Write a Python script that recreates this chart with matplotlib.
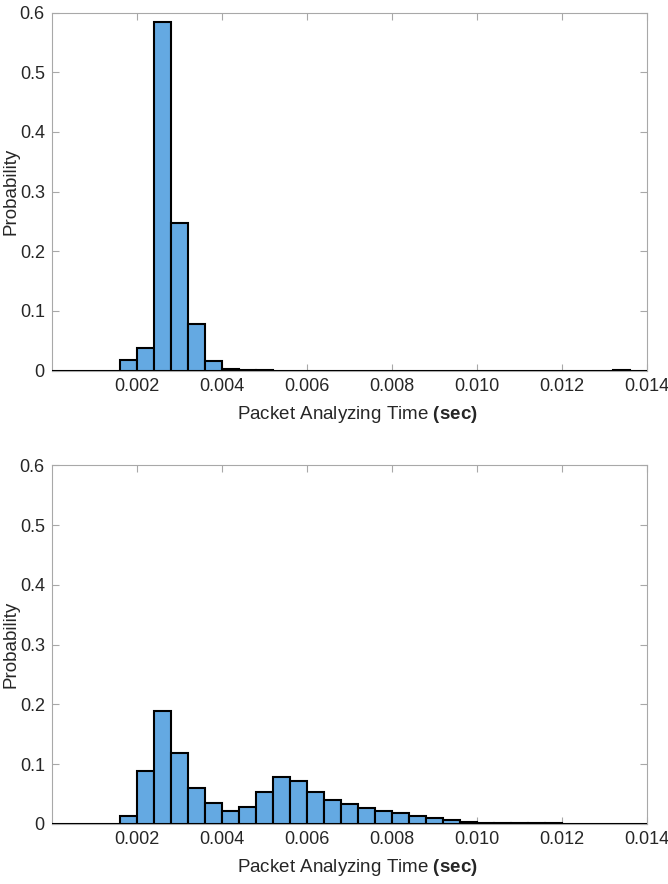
import numpy as np
import matplotlib
matplotlib.use("Agg")
import matplotlib.pyplot as plt

plt.rcParams['font.family'] = ['Liberation Sans', 'DejaVu Sans']
plt.rcParams['mathtext.fontset'] = 'custom'
plt.rcParams['mathtext.rm'] = 'Liberation Sans'
plt.rcParams['mathtext.bf'] = 'Liberation Sans:bold'

# Histogram bins: 0 .. 0.014 s in steps of 0.4 ms
bin_width = 0.0004
bin_edges = np.round(np.arange(0, 0.014, bin_width), 6)

# Probability per bin, upper panel
prob_top = [0, 0, 0, 0, 0.018, 0.038, 0.585, 0.247, 0.078, 0.016,
            0.0033, 0.001, 0.0003, 0.0002, 0.0001, 0.0001, 0.0001, 0.0001,
            0.0001, 0.0001, 0.0001, 0.0001, 0.0001, 0.0001, 0.0001, 0.0001,
            0.0001, 0.0001, 0.0001, 0.0001, 0.0001, 0.0001, 0.0001, 0.001,
            0.0001]

# Probability per bin, lower panel
prob_bottom = [0, 0, 0, 0, 0.014, 0.088, 0.189, 0.119, 0.061, 0.0345,
               0.0225, 0.028, 0.054, 0.078, 0.0725, 0.054, 0.0396, 0.033,
               0.0273, 0.0223, 0.0178, 0.0139, 0.0095, 0.0061, 0.0039, 0.0022,
               0.0015, 0.0009, 0.0008, 0.0008, 0.0005, 0.0004, 0.0003, 0.0003,
               0.0003]

xticks = [0.002, 0.004, 0.006, 0.008, 0.010, 0.012, 0.014]
xtick_labels = ['0.002', '0.004', '0.006', '0.008', '0.010', '0.012', '0.014']
yticks = [0, 0.1, 0.2, 0.3, 0.4, 0.5, 0.6]
ytick_labels = ['0', '0.1', '0.2', '0.3', '0.4', '0.5', '0.6']

face = '#64A9E2'
frame = '#a8a8a8'

fig = plt.figure(figsize=(6.68, 8.84), dpi=100)
ax_top = fig.add_axes([0.0774, 0.5807, 0.8907, 0.405])
ax_bot = fig.add_axes([0.0774, 0.0679, 0.8907, 0.4058])

for ax, probs in ((ax_top, prob_top), (ax_bot, prob_bottom)):
    ax.bar(bin_edges, probs, width=bin_width, align='edge',
           color=face, edgecolor='black', linewidth=1.5, zorder=3)
    ax.set_xlim(0, 0.014)
    ax.set_ylim(0, 0.6)
    ax.set_xticks(xticks)
    ax.set_xticklabels(xtick_labels)
    ax.set_yticks(yticks)
    ax.set_yticklabels(ytick_labels)
    ax.tick_params(direction='in', length=5, width=0.8, color=frame,
                   labelsize=13, labelcolor='#262626',
                   top=True, right=True, pad=5)
    for sp in ax.spines.values():
        sp.set_color(frame)
        sp.set_linewidth(0.8)
    ax.set_ylabel('Probability', fontsize=13.5, color='#262626')
    ax.set_xlabel(r'Packet Analyzing Time $\mathbf{(sec)}$', fontsize=13.5,
                  color='#262626')
    ax.yaxis.set_label_coords(-0.0545, 0.5)
    ax.xaxis.set_label_coords(0.513, -0.092)

fig.savefig('out.png', dpi=100)
